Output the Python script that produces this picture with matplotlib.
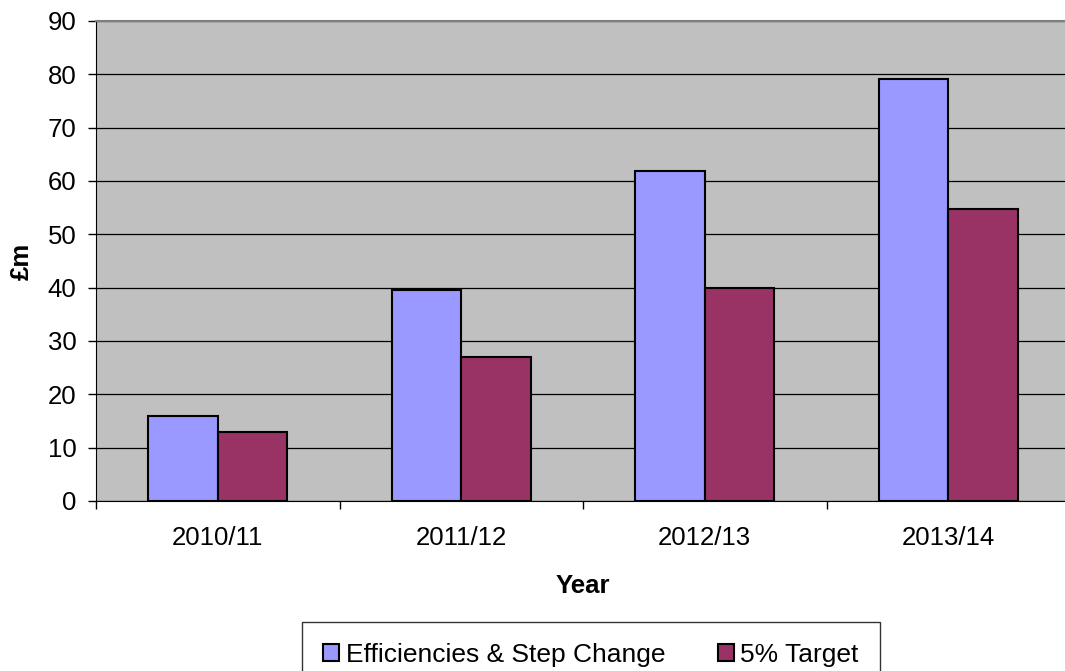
import matplotlib
matplotlib.use("Agg")
import matplotlib.pyplot as plt
import numpy as np

plt.rcParams['font.family'] = ['Liberation Sans', 'DejaVu Sans']

years = ["2010/11", "2011/12", "2012/13", "2013/14"]
efficiencies = [16, 39.5, 61.8, 79.1]
target = [13, 27, 40, 54.7]
series_names = ["Efficiencies & Step Change", "5% Target"]
y_ticks = [0, 10, 20, 30, 40, 50, 60, 70, 80, 90]

fig = plt.figure(figsize=(10.65, 6.71), dpi=100)
ax = fig.add_axes([96 / 1065, 170 / 671, 974 / 1065, 480 / 671])
ax.set_facecolor('#C0C0C0')

x = np.arange(len(years))
w = 1 / 3.5
b1 = ax.bar(x - w / 2, efficiencies, w, color='#9999FF', edgecolor='black',
            linewidth=1.5, zorder=3, label=series_names[0])
b2 = ax.bar(x + w / 2, target, w, color='#993366', edgecolor='black',
            linewidth=1.5, zorder=3, label=series_names[1])

ax.set_xlim(-0.5, len(years) - 0.5)
ax.set_ylim(0, 90)
ax.set_yticks(y_ticks)
ax.yaxis.grid(True, color='black', linewidth=0.9, zorder=1)
ax.set_axisbelow(True)

# category labels centred, tick marks on category boundaries
ax.set_xticks(x)
ax.set_xticklabels(years)
ax.set_xticks(np.arange(len(years) + 1) - 0.5, minor=True)
ax.tick_params(axis='x', which='major', length=0, pad=18, labelsize=18.5)
ax.tick_params(axis='x', which='minor', length=6, width=1, direction='out')
ax.tick_params(axis='y', length=6, width=1, direction='out', pad=8, labelsize=18.5)

ax.spines['right'].set_visible(False)
ax.spines['top'].set_color('#808080')
ax.spines['top'].set_linewidth(1.5)
ax.spines['left'].set_color('black')
ax.spines['bottom'].set_color('black')

ax.set_ylabel('£m', fontsize=18.5, fontweight='bold', labelpad=10)
ax.set_xlabel('Year', fontsize=18.5, fontweight='bold', labelpad=17)

leg = fig.legend(handles=[b1, b2], labels=series_names, loc='upper left',
                 bbox_to_anchor=(302 / 1065, 1 - 622 / 671), ncol=2,
                 frameon=True, fancybox=False, fontsize=19,
                 handlelength=0.6, handleheight=0.6, handletextpad=0.25,
                 columnspacing=2.0, borderpad=0.8, borderaxespad=0)
leg.get_frame().set_edgecolor('black')
leg.get_frame().set_linewidth(1)

fig.savefig('out.png', dpi=100)
